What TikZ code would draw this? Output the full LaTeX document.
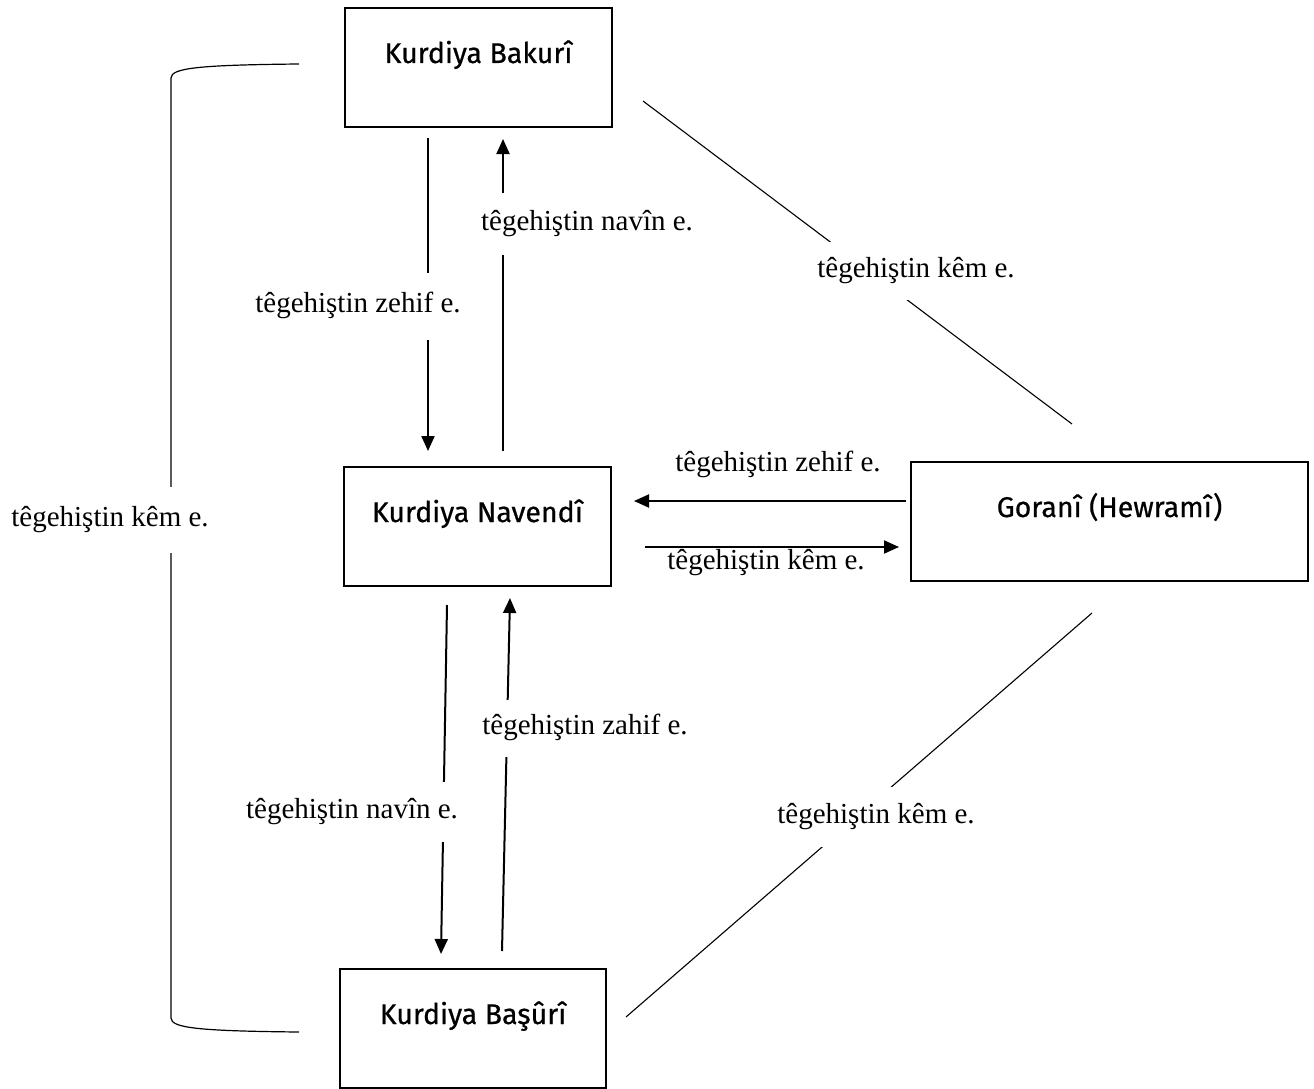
\documentclass[tikz,border=0pt]{standalone}
\usepackage{fontspec}
\setmainfont{Liberation Serif}
\newfontfamily\boxfont[FakeBold=0.6]{Fira Sans}
\usetikzlibrary{arrows.meta}
\begin{document}
\begin{tikzpicture}[x=1pt,y=-1pt,
  box/.style={draw, line width=2pt, rectangle, inner sep=0pt,
    minimum height=119pt, font=\boxfont\fontsize{28.5}{32}\selectfont,
    text height=0.7em, text depth=16pt},
  arr/.style={line width=2pt, -{Triangle[width=13pt,length=15pt]}},
  thinline/.style={line width=1.1pt},
  lbl/.style={font=\fontsize{29}{34}\selectfont, inner sep=0pt,
    text height=20pt, text depth=6.5pt},
  gaplbl/.style={lbl, fill=white, inner xsep=2pt}]
\useasboundingbox (0,0) rectangle (1314,1089);
\fill[white] (0,0) rectangle (1314,1089);

% boxes
\node[box, minimum width=267pt] (bak) at (478.5,67.5) {Kurdiya Bakurî};
\node[box, minimum width=267pt] (nav) at (477.5,526.5) {Kurdiya Navendî};
\node[box, minimum width=397pt] (gor) at (1109.5,521.5) {Goranî (Hewramî)};
\node[box, minimum width=266pt] (bas) at (473,1028.5) {Kurdiya Başûrî};

% vertical arrows
\draw[arr] ([xshift=-50.5pt,yshift=-10pt]bak.south) -- ([xshift=-49.5pt,yshift=15pt]nav.north);
\draw[arr] ([xshift=25.5pt,yshift=15pt]nav.north) -- ([xshift=24.5pt,yshift=-11pt]bak.south);
\draw[arr] ([xshift=-30.5pt,yshift=-18pt]nav.south) -- ([xshift=-32pt,yshift=14pt]bas.north);
\draw[arr] ([xshift=29pt,yshift=17pt]bas.north) -- ([xshift=32.5pt,yshift=-11pt]nav.south);

% horizontal arrows
\draw[arr] ([xshift=-4pt,yshift=20.5pt]gor.west) -- ([xshift=22pt,yshift=25.5pt]nav.east);
\draw[arr] ([xshift=33pt,yshift=-20.5pt]nav.east) -- ([xshift=-11pt,yshift=-25.5pt]gor.west);

% diagonal lines
\draw[thinline] ([xshift=30pt,yshift=-33.5pt]bak.east) -- ([xshift=-37.5pt,yshift=37pt]gor.north);
\draw[thinline] ([xshift=-17.5pt,yshift=-31pt]gor.south) -- ([xshift=19pt,yshift=11.5pt]bas.east);

% bracket
\coordinate (bt) at ([xshift=-45pt,yshift=3.5pt]bak.west);
\coordinate (bb) at ([xshift=-40pt,yshift=-3.5pt]bas.west);
\draw[line width=1.2pt] (bt) .. controls +(-100,1) and +(0,-10) .. (171,78)
  -- (171,1018) .. controls +(0,10) and +(-100,-1) .. (bb);

% labels
\node[gaplbl, minimum height=67pt] (l1) at (358,306) {têgehiştin zehif e.};
\node[gaplbl, minimum height=62pt] (l2) at (587,224) {têgehiştin navîn e.};
\node[gaplbl, minimum height=60pt] (l3) at (352,812) {têgehiştin navîn e.};
\node[gaplbl, minimum height=57pt] (l4) at (585,728) {têgehiştin zahif e.};
\node[lbl] (l5) at (778,465) {têgehiştin zehif e.};
\node[lbl] (l6) at (766,563) {têgehiştin kêm e.};
\node[gaplbl, minimum height=58pt] (l7) at (916,271) {têgehiştin kêm e.};
\node[gaplbl, minimum height=60pt] (l8) at (876,817) {têgehiştin kêm e.};
\node[gaplbl, minimum height=66pt] (l9) at (110,520) {têgehiştin kêm e.};
\end{tikzpicture}
\end{document}
